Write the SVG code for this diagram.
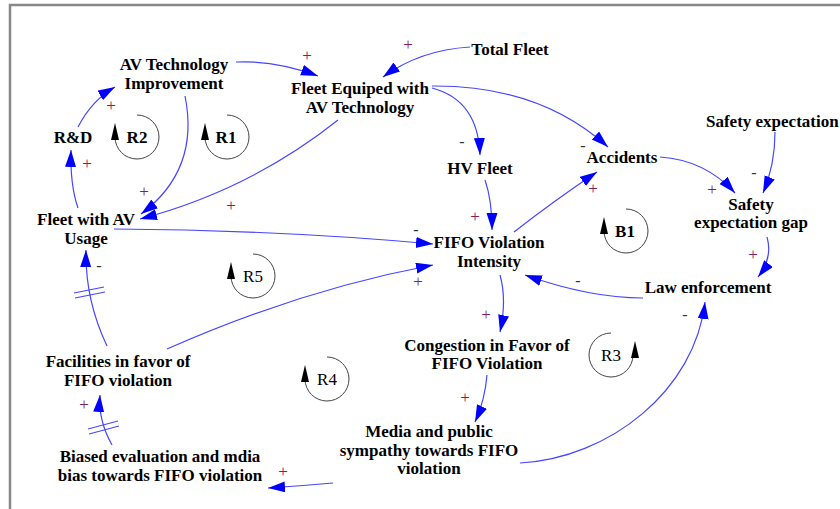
<svg xmlns="http://www.w3.org/2000/svg" width="840" height="509" viewBox="0 0 840 509">
<style>
.n{font-family:"Liberation Serif","Times New Roman",serif;font-size:17px;font-weight:bold;fill:#000;text-anchor:middle}
.lb{font-family:"Liberation Serif","Times New Roman",serif;font-size:17px;fill:#000;text-anchor:middle}
.lbb{font-weight:bold}
.p{font-family:"Liberation Serif","Times New Roman",serif;font-size:17px;fill:#80205a;text-anchor:middle}
.m{font-family:"Liberation Serif","Times New Roman",serif;font-size:16px;fill:#333;text-anchor:middle}
.c{fill:none;stroke:#4646ff;stroke-width:1.2;marker-end:url(#ah)}
.h{stroke:#4646ff;stroke-width:1.2}
.loop{fill:none;stroke:#444;stroke-width:1}
.la{fill:#000}
</style>
<defs>
<marker id="ah" markerUnits="userSpaceOnUse" markerWidth="18" markerHeight="12" refX="17" refY="5.5" orient="auto">
<path d="M0,0 L17,5.5 L0,11 Z" fill="#0000ff"/>
</marker>
</defs>
<rect width="840" height="509" fill="#fff"/>
<path d="M10,509 L10,5 L840,5" fill="none" stroke="#888" stroke-width="2.5"/>

<g id="connectors">
<path class="c" d="M236,62 Q275,60 318,76"/>
<path class="c" d="M470,47 Q420,50 383,77"/>
<path class="c" d="M432,88 Q478,100 480,155"/>
<path class="c" d="M432,86 Q540,85 608,147"/>
<path class="c" d="M338,120 Q250,190 140,219"/>
<path class="c" d="M185,96 Q200,170 141,214"/>
<path class="c" d="M78,127 Q92,100 115,87"/>
<path class="c" d="M78,208 Q70,185 71,150"/>
<path class="c" d="M114,229 Q280,230 433,244"/>
<path class="c" d="M167,349 Q300,290 433,265"/>
<path class="c" d="M107,346 Q85,300 86,250"/>
<path class="c" d="M112,445 Q98,420 100,395"/>
<path class="c" d="M485,180 Q492,200 492,230"/>
<path class="c" d="M514,232 Q555,200 597,172"/>
<path class="c" d="M660,157 Q705,160 735,193"/>
<path class="c" d="M775,132 Q775,165 763,193"/>
<path class="c" d="M767,237 Q773,258 758,277"/>
<path class="c" d="M643,298 Q590,298 525,275"/>
<path class="c" d="M500,275 Q507,300 500,332"/>
<path class="c" d="M487,375 Q485,400 475,422"/>
<path class="c" d="M520,463 C610,458 695,390 705,302"/>
<path class="c" d="M333,483 Q300,486 268,488"/>
<line class="h" x1="74" y1="293" x2="104" y2="287"/>
<line class="h" x1="75" y1="298" x2="105" y2="292"/>
<line class="h" x1="88" y1="429" x2="118" y2="421"/>
<line class="h" x1="89" y1="434" x2="119" y2="426"/>
<text class="p" x="307" y="61">+</text>
<text class="p" x="408" y="50">+</text>
<text class="p" x="231" y="211">+</text>
<text class="p" x="144" y="197">+</text>
<text class="p" x="111" y="111">+</text>
<text class="p" x="87" y="169">+</text>
<text class="p" x="418" y="287">+</text>
<text class="p" x="84" y="410">+</text>
<text class="p" x="475" y="222">+</text>
<text class="p" x="593" y="194">+</text>
<text class="p" x="712" y="195">+</text>
<text class="p" x="753" y="260">+</text>
<text class="p" x="486" y="320">+</text>
<text class="p" x="465" y="403">+</text>
<text class="p" x="283" y="477">+</text>
<text class="m" x="462" y="147">-</text>
<text class="m" x="583" y="151">-</text>
<text class="m" x="416" y="235">-</text>
<text class="m" x="99" y="271">-</text>
<text class="m" x="754" y="178">-</text>
<text class="m" x="578" y="286">-</text>
<text class="m" x="685" y="320">-</text>
</g>

<g id="loops">
<g id="loop-R2"><path class="loop" d="M137,115 A22,22 0 1 1 115,137"/><path class="la" d="M115,123 L111,140 L119,140 Z"/><text class="lb lbb" x="137" y="143">R2</text></g>
<g id="loop-R1"><path class="loop" d="M227,115 A22,22 0 1 1 205,137"/><path class="la" d="M205,123 L201,140 L209,140 Z"/><text class="lb lbb" x="226" y="143">R1</text></g>
<g id="loop-B1"><path class="loop" d="M626,209 A22,22 0 1 1 604,231"/><path class="la" d="M604,217 L600,234 L608,234 Z"/><text class="lb lbb" x="625" y="237">B1</text></g>
<g id="loop-R5"><path class="loop" d="M253,254 A22,22 0 1 1 231,276"/><path class="la" d="M231,262 L227,279 L235,279 Z"/><text class="lb" x="253" y="282">R5</text></g>
<g id="loop-R4"><path class="loop" d="M327,357 A22,22 0 1 1 305,379"/><path class="la" d="M305,365 L301,382 L309,382 Z"/><text class="lb" x="327" y="385">R4</text></g>
<g id="loop-R3"><path class="loop" d="M611,333 A22,22 0 1 0 633,355"/><path class="la" d="M635,341 L631,358 L639,358 Z"/><text class="lb" x="611" y="361">R3</text></g>
</g>

<g id="node-av-tech"><text class="n" x="174" y="70">AV Technology</text><text class="n" x="174" y="89">Improvement</text></g>
<g id="node-fleet-equiped"><text class="n" x="360" y="94">Fleet Equiped with</text><text class="n" x="360" y="113">AV Technology</text></g>
<g id="node-total-fleet"><text class="n" x="510" y="55">Total Fleet</text></g>
<g id="node-hv-fleet"><text class="n" x="480" y="174">HV Fleet</text></g>
<g id="node-accidents"><text class="n" x="622" y="163">Accidents</text></g>
<g id="node-safety-exp"><text class="n" x="706" y="127" style="text-anchor:start">Safety expectation</text></g>
<g id="node-safety-gap"><text class="n" x="751" y="210">Safety</text><text class="n" x="751" y="228">expectation gap</text></g>
<g id="node-law"><text class="n" x="708" y="293">Law enforcement</text></g>
<g id="node-fifo"><text class="n" x="489" y="248">FIFO Violation</text><text class="n" x="489" y="267">Intensity</text></g>
<g id="node-fleet-usage"><text class="n" x="86" y="225">Fleet with AV</text><text class="n" x="86" y="244">Usage</text></g>
<g id="node-rd"><text class="n" x="73" y="143">R&amp;D</text></g>
<g id="node-facilities"><text class="n" x="118" y="367">Facilities in favor of</text><text class="n" x="118" y="386">FIFO violation</text></g>
<g id="node-biased"><text class="n" x="160" y="462">Biased evaluation and mdia</text><text class="n" x="160" y="481">bias towards FIFO violation</text></g>
<g id="node-congestion"><text class="n" x="487" y="351">Congestion in Favor of</text><text class="n" x="487" y="369">FIFO Violation</text></g>
<g id="node-media"><text class="n" x="429" y="437">Media and public</text><text class="n" x="429" y="456">sympathy towards FIFO</text><text class="n" x="429" y="474">violation</text></g>
</svg>
